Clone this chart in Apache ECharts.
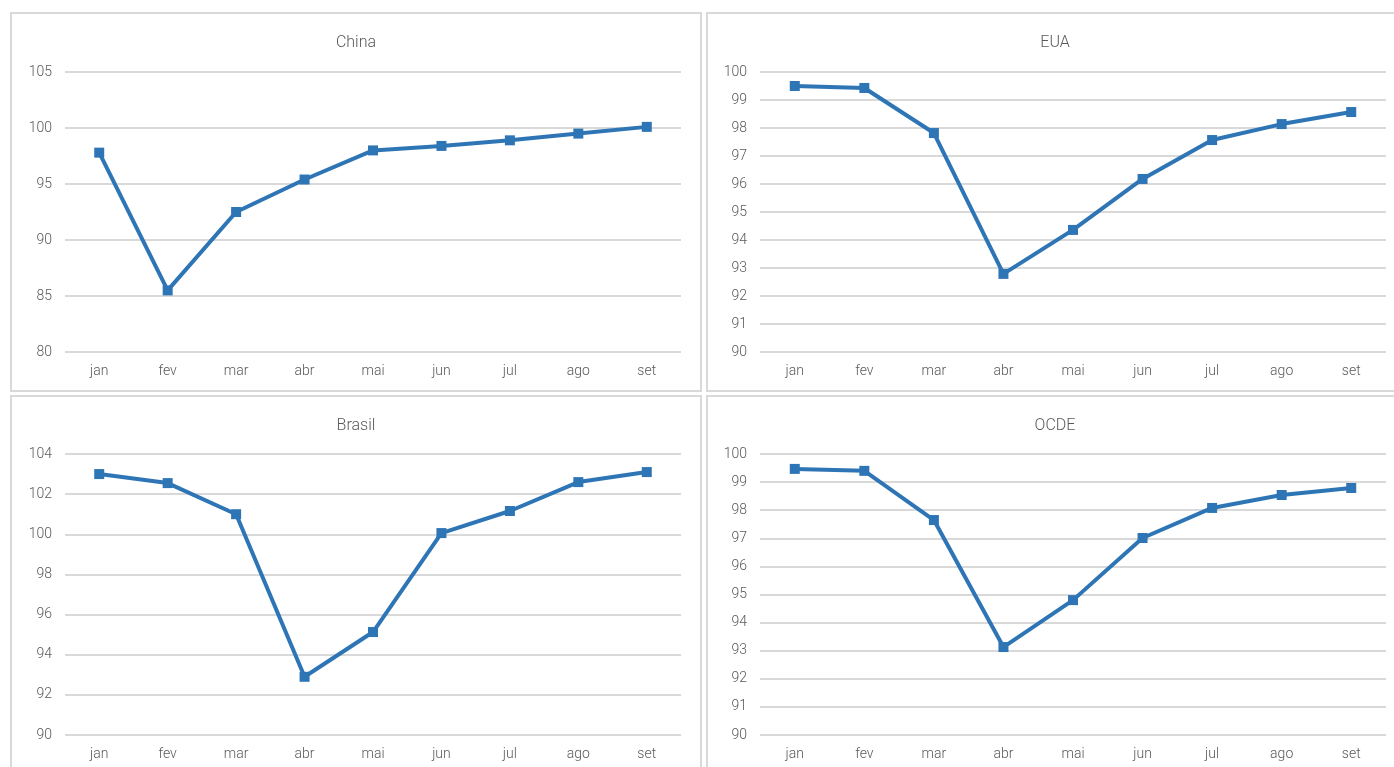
<!DOCTYPE html>
<html>
<head>
<meta charset="utf-8">
<script src="https://cdn.jsdelivr.net/npm/echarts@6/dist/echarts.min.js"></script>
<style>
  html, body { margin: 0; padding: 0; background: #fff; width: 1394px; height: 767px; overflow: hidden; position: relative; }
  .panel { position: absolute; box-sizing: border-box; border: 2px solid #d9d9d9; background: #fff; }
  #p1 { left: 10px; top: 12px; width: 692px; height: 380px; }
  #p2 { left: 706px; top: 12px; width: 698px; height: 380px; }
  #p3 { left: 10px; top: 395px; width: 692px; height: 400px; }
  #p4 { left: 706px; top: 395px; width: 698px; height: 400px; }
  .chart { position: absolute; left: 0; top: 0; right: 0; bottom: 0; }
</style>
</head>
<body>
<div class="panel" id="p1"><div class="chart"></div></div>
<div class="panel" id="p2"><div class="chart"></div></div>
<div class="panel" id="p3"><div class="chart"></div></div>
<div class="panel" id="p4"><div class="chart"></div></div>
<script>
const months = ['jan', 'fev', 'mar', 'abr', 'mai', 'jun', 'jul', 'ago', 'set'];

const china = [97.8, 85.5, 92.5, 95.4, 98.0, 98.4, 98.9, 99.5, 100.1];
const eua = [99.5, 99.43, 97.82, 92.79, 94.36, 96.18, 97.57, 98.14, 98.57];
const brasil = [103.0, 102.55, 101.0, 92.9, 95.13, 100.06, 101.16, 102.6, 103.1];
const ocde = [99.47, 99.4, 97.65, 93.13, 94.8, 97.01, 98.08, 98.54, 98.79];

// min, max, interval of each y axis
const chinaAxis = [80, 105, 5];
const euaAxis = [90, 100, 1];
const brasilAxis = [90, 104, 2];
const ocdeAxis = [90, 100, 1];

function drawPanel(sel, name, data, axis, grid, titleTop) {
  const myChart = echarts.init(document.querySelector(sel + ' .chart'));
  const option = {
    animation: false,
    textStyle: { fontFamily: 'Roboto' },
    title: {
      text: name,
      left: 'center',
      top: titleTop,
      textStyle: {
        color: '#595959',
        fontSize: 16,
        fontWeight: 300,
        fontFamily: 'Roboto',
      },
    },
    grid: grid,
    xAxis: {
      type: 'category',
      data: months,
      boundaryGap: true,
      axisLine: { show: false },
      axisTick: { show: false },
      axisLabel: {
        color: '#595959',
        fontSize: 14,
        fontWeight: 300,
        margin: 12,
      },
    },
    yAxis: {
      type: 'value',
      min: axis[0],
      max: axis[1],
      interval: axis[2],
      axisLine: { show: false },
      axisTick: { show: false },
      axisLabel: {
        color: '#595959',
        fontSize: 14,
        fontWeight: 300,
        margin: 13,
      },
      splitLine: {
        lineStyle: { color: '#d9d9d9', width: 2 },
      },
    },
    series: [
      {
        name: name,
        type: 'line',
        data: data,
        symbol: 'rect',
        symbolSize: 10,
        lineStyle: { color: '#2e75b6', width: 4 },
        itemStyle: { color: '#2e75b6' },
      },
    ],
  };
  myChart.setOption(option);
}

drawPanel('#p1', 'China', china, chinaAxis, { left: 53, top: 58, width: 616, height: 280 }, 16);
drawPanel('#p2', 'EUA', eua, euaAxis, { left: 52, top: 58, width: 626, height: 280 }, 16);
drawPanel('#p3', 'Brasil', brasil, brasilAxis, { left: 53, top: 57, width: 616, height: 281 }, 16);
drawPanel('#p4', 'OCDE', ocde, ocdeAxis, { left: 52, top: 57, width: 626, height: 281 }, 16);
</script>
</body>
</html>
